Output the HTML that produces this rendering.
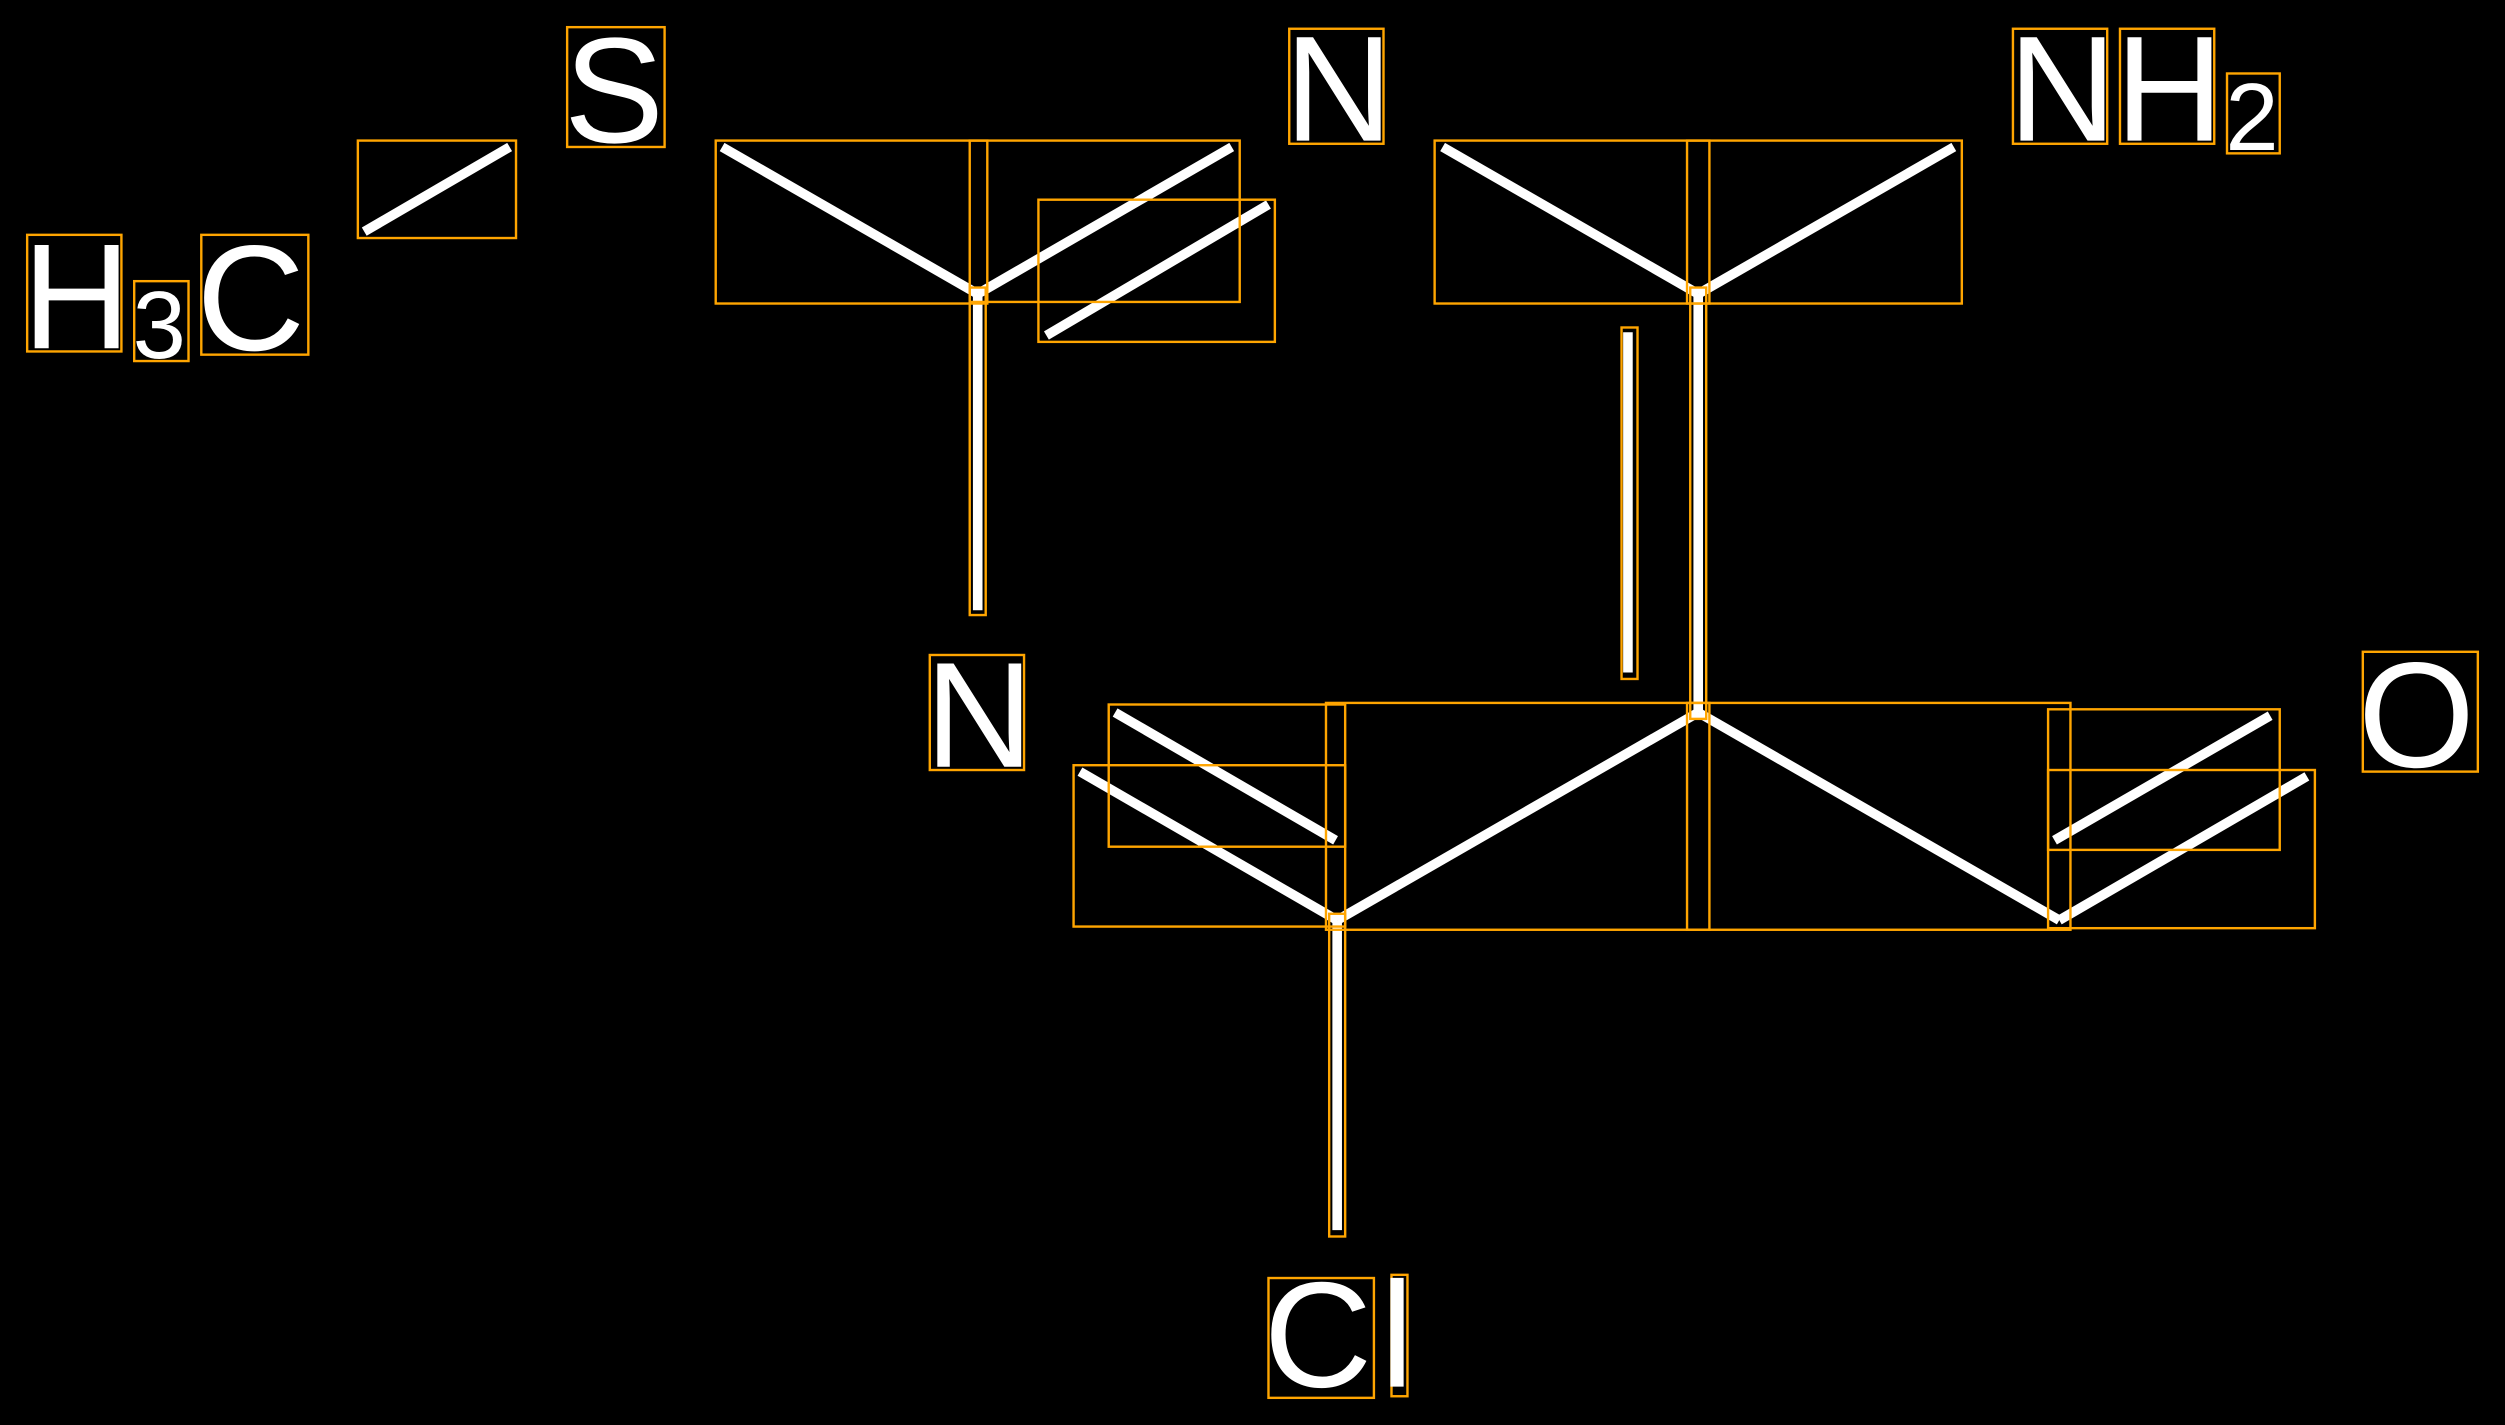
<!DOCTYPE html>
<html><head><meta charset="utf-8"><style>
html,body{margin:0;padding:0;background:#000;width:2505px;height:1425px;overflow:hidden}
svg{display:block}
text{font-family:"Liberation Sans",sans-serif;fill:#fff}
</style></head><body>
<svg width="2505" height="1425" viewBox="0 0 1568 892" preserveAspectRatio="none" xmlns="http://www.w3.org/2000/svg">
<rect width="1568" height="892" fill="#000"/>
<g stroke="#fff" stroke-width="6" stroke-linecap="butt">
<line x1="228" y1="145" x2="319" y2="92"/>
<line x1="452" y1="92" x2="612" y2="184"/>
<line x1="612" y1="184" x2="771" y2="92"/>
<line x1="655" y1="210" x2="794" y2="128"/>
<line x1="612" y1="184" x2="612" y2="382"/>
<line x1="903" y1="92" x2="1063" y2="184"/>
<line x1="1063" y1="184" x2="1223" y2="92"/>
<line x1="1019" y1="208" x2="1019" y2="421"/>
<line x1="1063" y1="184" x2="1063" y2="446"/>
<line x1="1063" y1="446" x2="837" y2="576"/>
<line x1="1063" y1="446" x2="1289" y2="576"/>
<line x1="698" y1="446" x2="836" y2="526"/>
<line x1="676" y1="483" x2="837" y2="576"/>
<line x1="1286" y1="526" x2="1421" y2="448"/>
<line x1="1289" y1="576" x2="1444" y2="486"/>
<line x1="837" y1="576" x2="837" y2="770"/>
</g>
<g fill="none" stroke="#ffa500" stroke-width="1.5">
<rect x="224" y="88" width="99" height="61"/>
<rect x="355" y="17" width="61" height="75"/>
<rect x="448" y="88" width="170" height="102"/>
<rect x="607" y="88" width="169" height="101"/>
<rect x="650" y="125" width="148" height="89"/>
<rect x="607" y="180" width="10" height="205"/>
<rect x="582" y="410" width="59" height="72"/>
<rect x="807" y="18" width="59" height="72"/>
<rect x="898" y="88" width="172" height="102"/>
<rect x="1056" y="88" width="172" height="102"/>
<rect x="1015" y="205" width="10" height="220"/>
<rect x="1058" y="180" width="10" height="270"/>
<rect x="830" y="440" width="240" height="142"/>
<rect x="1056" y="440" width="240" height="142"/>
<rect x="694" y="441" width="148" height="89"/>
<rect x="672" y="479" width="170" height="101"/>
<rect x="1282" y="444" width="145" height="88"/>
<rect x="1282" y="482" width="167" height="99"/>
<rect x="832" y="572" width="10" height="202"/>
<rect x="794" y="800" width="66" height="75"/>
<rect x="871" y="798" width="10" height="76"/>
<rect x="1479" y="408" width="72" height="75"/>
<rect x="1260" y="18" width="59" height="72"/>
<rect x="1327" y="18" width="59" height="72"/>
<rect x="1394" y="46" width="33" height="50"/>
<rect x="17" y="147" width="59" height="73"/>
<rect x="84" y="176" width="34" height="50"/>
<rect x="126" y="147" width="67" height="75"/>
</g>
<g font-size="94">
<text x="353" y="89">S</text>
<text x="579" y="480">N</text>
<text x="804" y="88">N</text>
<text x="791" y="868">C</text>
<text x="864" y="868">l</text>
<text x="1476" y="480">O</text>
<text x="1257" y="88">N</text>
<text x="1324" y="88">H</text>
<text x="14" y="218">H</text>
<text x="123" y="219">C</text>
</g>
<g font-size="60">
<text x="1393" y="94">2</text>
<text x="83" y="224">3</text>
</g>
</svg>
</body></html>
